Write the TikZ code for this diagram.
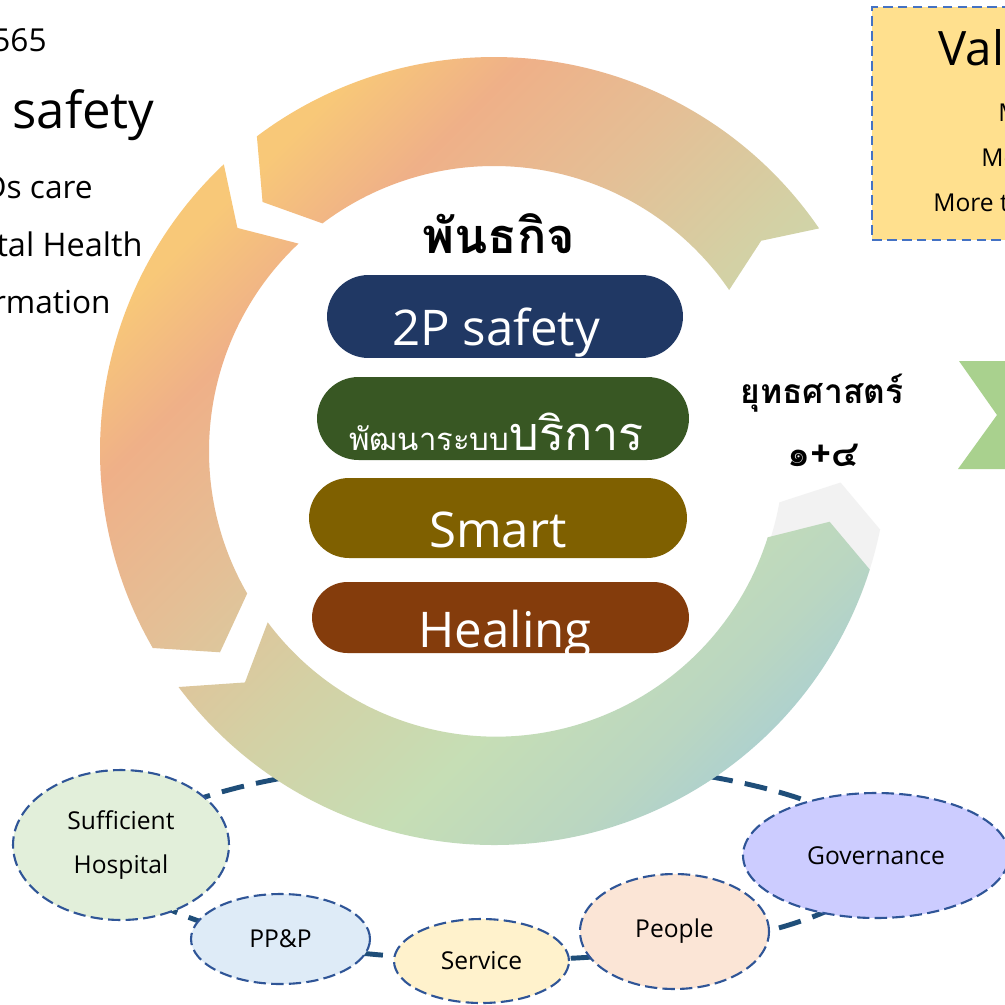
\documentclass[tikz,border=0pt]{standalone}
\usepackage{fontspec}
\setmainfont{Open Sans}
\newfontfamily\thaifont[Script=Thai]{Loma}
\usetikzlibrary{shapes.misc,shapes.geometric}
\definecolor{rg0}{HTML}{F8CB74}
\definecolor{rg1}{HTML}{F8C878}
\definecolor{rg2}{HTML}{EFB088}
\definecolor{rg3}{HTML}{E5BE95}
\definecolor{rg4}{HTML}{D3D1A5}
\definecolor{rg5}{HTML}{C6DEB5}
\definecolor{rg6}{HTML}{BAD6C1}
\definecolor{rg7}{HTML}{ACD0D0}
\definecolor{rg8}{HTML}{A8CED6}
\definecolor{pillnavy}{HTML}{203864}
\definecolor{pillgreen}{HTML}{385723}
\definecolor{pillolive}{HTML}{7F6000}
\definecolor{pillbrown}{HTML}{843C0C}
\definecolor{ringgray}{HTML}{F2F2F2}
\definecolor{chevgreen}{HTML}{A9D18E}
\definecolor{boxyellow}{HTML}{FFE08E}
\definecolor{boxblue}{HTML}{4472C4}
\definecolor{ellblue}{HTML}{2F5597}
\definecolor{loopblue}{HTML}{1F4E79}
\definecolor{fsuff}{HTML}{E2EFDA}
\definecolor{fppp}{HTML}{DEEBF7}
\definecolor{fserv}{HTML}{FFF2CC}
\definecolor{fpeop}{HTML}{FBE5D6}
\definecolor{fgov}{HTML}{CCCCFF}
\pgfdeclarehorizontalshading{ringgrad}{24cm}{color(0cm)=(rg0); color(4.8cm)=(rg1); color(7cm)=(rg2); color(9.7cm)=(rg3); color(12.9cm)=(rg4); color(16cm)=(rg5); color(18.7cm)=(rg6); color(20.3cm)=(rg7); color(24cm)=(rg8)}
\begin{document}
\begin{tikzpicture}[x=0.02cm, y=-0.02cm,
  pill/.style={rounded rectangle, inner sep=0pt, draw=none},
  pilltxt/.style={text=white, inner sep=0pt, anchor=base, font=\fontsize{28}{28}\selectfont},
  thaitxt/.style={inner sep=0pt, anchor=base},
  lefttxt/.style={inner sep=0pt, anchor=base east, font=\fontsize{18}{18}\selectfont},
  boxtxt/.style={inner sep=0pt, anchor=base west, font=\fontsize{14}{14}\selectfont},
  ellnode/.style={ellipse, draw=ellblue, line width=1.2pt, dash pattern=on 7pt off 3pt, inner sep=0pt, align=center, font=\fontsize{14}{25.5}\selectfont},
  loopline/.style={draw=loopblue, line width=2.8pt, dash pattern=on 13pt off 7pt},
  valbox/.style={draw=boxblue, fill=boxyellow, line width=1.1pt, dash pattern=on 5.5pt off 3pt, inner sep=0pt}]
\useasboundingbox (0,0) rectangle (1005,1005);
\clip (0,0) rectangle (1005,1005);
\fill[white] (0,0) rectangle (1005,1005);
% dashed loop behind everything
\coordinate (loopc) at (500,860);
\draw[loopline] (loopc) ellipse [x radius=380, y radius=100];
% ring
\begin{scope}[shift={(494,451)}]
  \fill[ringgray] (-338:394) arc[start angle=-338, end angle=-348.5, radius=394] -- (-354.8:348) -- (-349.8:290) arc[start angle=-349.8, end angle=-338, radius=290] -- cycle;
  \begin{scope}
    \clip (-34.4:394) arc[start angle=-34.4, end angle=-127, radius=394] -- (-132.9:340) -- (-127:285) arc[start angle=-127, end angle=-34.4, radius=285] -- (-38.2:340) -- cycle
          (-133.3:394) arc[start angle=-133.3, end angle=-210, radius=394] -- (-216.3:340) -- (-210:285) arc[start angle=-210, end angle=-133.3, radius=285] -- (-139:340) -- cycle
          (-216.8:394) arc[start angle=-216.8, end angle=-342.5, radius=394] -- (-348.1:343) -- (-342.5:287) arc[start angle=-342.5, end angle=-216.8, radius=285] -- (-222.9:340) -- cycle;
    \node[inner sep=0pt, outer sep=0pt, rotate=-45] (shd) at (-9,0) {\pgfuseshading{ringgrad}};
  \end{scope}
\end{scope}
% mission title
\node[thaitxt, font=\thaifont\bfseries\fontsize{27.7}{27.7}\selectfont] (mis) at (499,253) {พันธกิจ};
% pills
\node[pill, fill=pillnavy, minimum width=7.12cm, minimum height=1.66cm] (p1) at (505,316.5) {};
\node[pill, fill=pillgreen, minimum width=7.44cm, minimum height=1.66cm] (p2) at (503,418.5) {};
\node[pill, fill=pillolive, minimum width=7.56cm, minimum height=1.6cm] (p3) at (498,518) {};
\node[pill, fill=pillbrown, minimum width=7.54cm, minimum height=1.42cm] (p4) at (500.5,617.5) {};
\node[pilltxt] (t1) at (496,345) {2P safety};
\node[thaitxt, text=white] (t2) at (496.5,450) {\thaifont{\fontsize{17.7}{17.7}\selectfont พัฒนาระบบ}{\fontsize{26.6}{26.6}\selectfont บริการ}};
\node[pilltxt] (t3) at (498,547) {Smart};
\node[pilltxt] (t4) at (505,647) {Healing};
% strategy
\node[thaitxt, font=\thaifont\bfseries\fontsize{19.1}{19.1}\selectfont] (str1) at (822,403) {ยุทธศาสตร์};
\node[thaitxt, font=\thaifont\bfseries\fontsize{20.7}{20.7}\selectfont] (str2) at (823,466) {๑+๔};
% left texts (cut by the edge)
\node[lefttxt] (y1) at (47,51) {2565};
\node[lefttxt, font=\fontsize{29}{29}\selectfont] (y2) at (155,128) {2P\hspace{0.25em}safety};
\node[lefttxt] (y3) at (93,198) {NCDs care};
\node[lefttxt, font=\fontsize{18.5}{18.5}\selectfont] (y4) at (143,256) {Mental Health};
\node[lefttxt] (y5) at (111,313) {Transformation};
% values box
\node[valbox, anchor=north west, minimum width=4cm, minimum height=4.66cm] (vbox) at (871,6) {};
\node[boxtxt, font=\fontsize{27}{27}\selectfont] (v0) at (938,65) {Values};
\node[boxtxt] (v1) at (998,121) {Mastery};
\node[boxtxt] (v2) at (981,166) {Modern};
\node[boxtxt] (v3) at (933,211) {More than};
% green chevron
\fill[chevgreen] (959,361) -- (1040,361) -- (1040,469) -- (958,469) -- (997,415) -- cycle;
% bottom ellipses
\node[ellnode, fill=fsuff, minimum width=4.32cm, minimum height=3cm] (suff) at (121,845) {Sufficient\\Hospital};
\node[ellnode, fill=fppp, minimum width=3.58cm, minimum height=1.8cm] (ppp) at (280.5,939) {PP\&P};
\node[ellnode, fill=fserv, minimum width=3.5cm, minimum height=1.68cm] (serv) at (481.5,961) {Service};
\node[ellnode, fill=fpeop, minimum width=3.78cm, minimum height=2.3cm] (peop) at (674.5,931.5) {People};
\node[ellnode, fill=fgov, minimum width=5.32cm, minimum height=2.5cm] (gov) at (876,855.5) {Governance};
\end{tikzpicture}
\end{document}
